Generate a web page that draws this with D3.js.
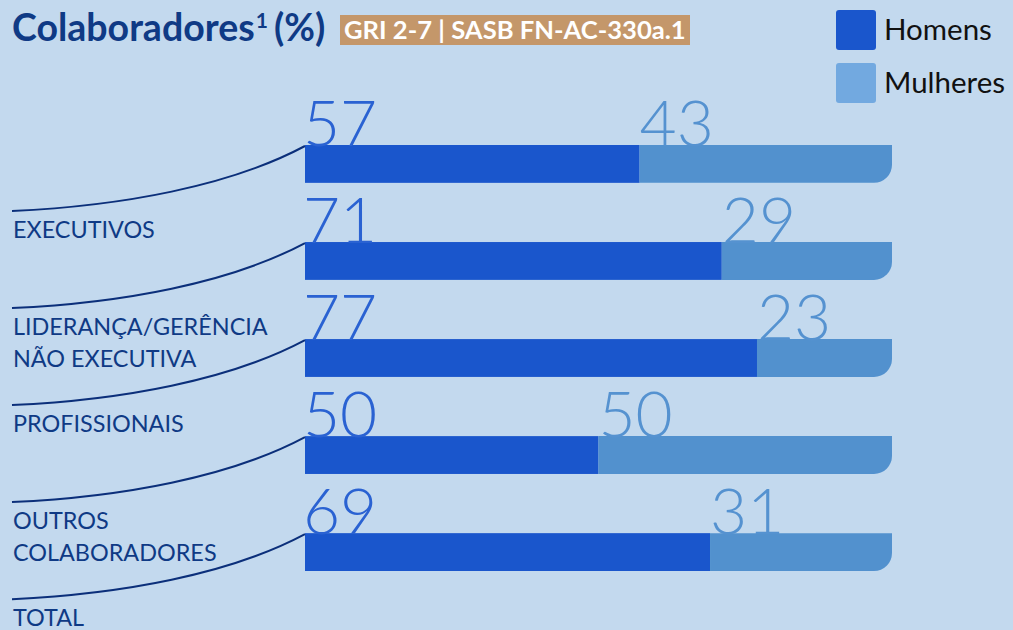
<!DOCTYPE html>
<html>
<head>
<meta charset="utf-8">
<script src="https://cdn.jsdelivr.net/npm/d3@7"></script>
<style>
    body { margin: 0; background: #c3d9ee; }
    svg { display: block; font-family: Lato, "Open Sans", sans-serif; }
</style>
</head>
<body>
<div id="chart"></div>
<script>
    const categories = [
        ["EXECUTIVOS"],
        ["LIDERANÇA/GERÊNCIA", "NÃO EXECUTIVA"],
        ["PROFISSIONAIS"],
        ["OUTROS", "COLABORADORES"],
        ["TOTAL"]
    ];
    const homens = [57, 71, 77, 50, 69];
    const mulheres = [43, 29, 23, 50, 31];
    const seriesNames = ["Homens", "Mulheres"];

    const width = 1013,
        height = 630;

    const colors = {
        background: '#c3d9ee',
        homens: '#1a56cc',
        mulheres: '#5291ce',
        homensText: '#2a62d2',
        mulheresText: '#5592d0',
        legendMulheres: '#72a9e0',
        navy: '#0f3a85',
        badge: '#c4976a'
    };

    const data = categories.map((c, i) => ({key: i, label: c, homens: homens[i], mulheres: mulheres[i]}));

    const svg = d3.select('#chart').append('svg')
        .attr('width', width)
        .attr('height', height);

    svg.append('rect')
        .attr('width', width)
        .attr('height', height)
        .attr('fill', colors.background);

    const xScale = d3.scaleLinear()
        .domain([0, 100])
        .range([305, 892]);

    const yScale = d3.scaleBand()
        .domain(data.map(d => d.key))
        .range([145, 571])
        .paddingInner(0.61)
        .paddingOuter(0);

    // title
    const title = svg.append('text')
        .attr('x', 12)
        .attr('y', 41)
        .attr('fill', colors.navy)
        .attr('font-weight', 700)
        .attr('font-size', 37.5);
    title.append('tspan').text('Colaboradores');
    title.append('tspan').attr('font-size', 21).attr('dx', 1).attr('dy', -13).text('1');
    title.append('tspan').attr('dx', 6).attr('dy', 13).text('(%)');

    const badge = svg.append('g');
    badge.append('rect')
        .attr('x', 340)
        .attr('y', 15)
        .attr('width', 350)
        .attr('height', 30)
        .attr('fill', colors.badge);
    badge.append('text')
        .attr('x', 344)
        .attr('y', 39)
        .attr('fill', '#fff')
        .attr('font-weight', 700)
        .attr('font-size', 25.6)
        .text('GRI 2-7 | SASB FN-AC-330a.1');

    // legend
    const legend = svg.append('g')
        .selectAll('g')
        .data(seriesNames)
        .enter().append('g')
        .attr('transform', (d, i) => `translate(836, ${10 + i * 53})`);
    legend.append('rect')
        .attr('width', 40)
        .attr('height', 40)
        .attr('rx', 3)
        .attr('fill', (d, i) => i === 0 ? colors.homens : colors.legendMulheres);
    legend.append('text')
        .attr('x', 48)
        .attr('y', 30)
        .attr('font-size', 29.5)
        .attr('fill', '#111')
        .text(d => d);

    // rows
    const rows = svg.append('g')
        .selectAll('g')
        .data(data)
        .enter().append('g');

    const bw = yScale.bandwidth();
    const r = 18;

    rows.append('rect')
        .attr('x', xScale(0))
        .attr('y', d => yScale(d.key))
        .attr('width', d => xScale(d.homens) - xScale(0))
        .attr('height', bw)
        .attr('fill', colors.homens);

    rows.append('path')
        .attr('fill', colors.mulheres)
        .attr('d', d => {
            const x0 = xScale(d.homens),
                x1 = xScale(d.homens + d.mulheres),
                y0 = yScale(d.key),
                y1 = y0 + bw;
            return `M${x0},${y0}H${x1}V${y1 - r}A${r},${r} 0 0 1 ${x1 - r},${y1}H${x0}Z`;
        });

    rows.append('text')
        .attr('x', xScale(0) - 2)
        .attr('y', d => yScale(d.key) + 1)
        .attr('font-size', 64)
        .attr('font-weight', 300)
        .attr('fill', colors.homensText)
        .text(d => d.homens);

    rows.append('text')
        .attr('x', d => xScale(d.homens))
        .attr('y', d => yScale(d.key) + 1)
        .attr('font-size', 64)
        .attr('font-weight', 300)
        .attr('fill', colors.mulheresText)
        .text(d => d.mulheres);

    // leader curves
    rows.append('path')
        .attr('fill', 'none')
        .attr('stroke', '#0b2f7a')
        .attr('stroke-width', 2)
        .attr('d', d => {
            const ex = xScale(0), ey = yScale(d.key) + 1;
            const sx = 12, sy = ey + 65;
            return `M${sx},${sy}C${sx + 110},${sy - 5} ${ex - 75},${ey + 40} ${ex},${ey}`;
        });

    rows.append('text')
        .attr('fill', colors.navy)
        .attr('font-size', 23.4)
        .attr('transform', d => `translate(13, ${yScale(d.key) + 93})`)
        .selectAll('tspan')
        .data(d => d.label)
        .enter().append('tspan')
        .attr('x', 0)
        .attr('y', (d, i) => i * 32)
        .text(d => d);
</script>
</body>
</html>
